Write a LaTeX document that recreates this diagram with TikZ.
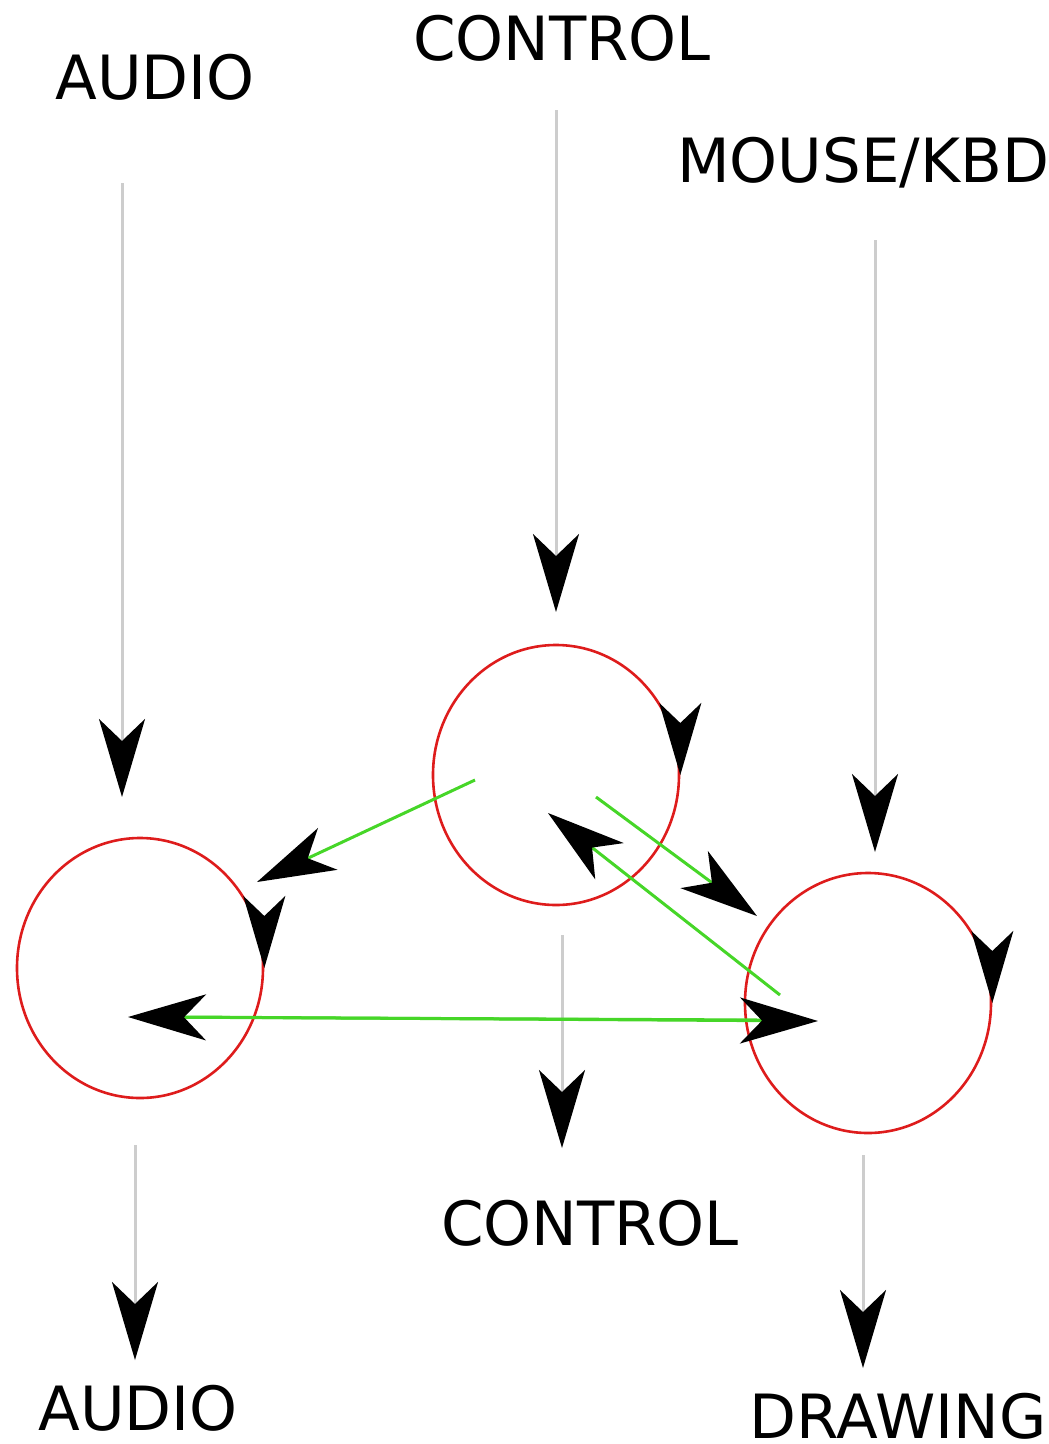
\documentclass[tikz,border=0pt]{standalone}
\usepackage{fontspec}
\setmainfont{DejaVu Sans}
\usetikzlibrary{arrows.meta,shapes.geometric}
\definecolor{linegray}{RGB}{205,205,205}
\definecolor{ringred}{RGB}{222,28,28}
\definecolor{flowgreen}{RGB}{70,214,40}
\begin{document}
\begin{tikzpicture}[x=1pt,y=-1pt,
  lbl/.style={font=\fontsize{61}{70}\selectfont, inner sep=0pt},
  ring/.style={ellipse, draw=ringred, line width=2.6pt, minimum width=246pt, minimum height=260pt, inner sep=0pt},
  bigtip/.style={-{Stealth[length=78pt,width=46pt,inset=22pt,black]}},
  ringtip/.style={-{Stealth[length=72pt,width=42pt,inset=20pt,black]}},
  feed/.style={linegray, line width=3pt, bigtip},
  flow/.style={flowgreen, line width=3pt, bigtip},
]
\useasboundingbox (0,0) rectangle (1049,1444);

% labels
\node[lbl] (audioIn)  at (155,77)   {AUDIO};
\node[lbl] (ctrlIn)   at (562,38)   {CONTROL};
\node[lbl] (mouseIn)  at (863,163)  {MOUSE/KBD};
\node[lbl] (ctrlOut)  at (590,1223) {CONTROL};
\node[lbl] (audioOut) at (138,1408) {AUDIO};
\node[lbl] (drawOut)  at (898,1416) {DRAWING};

% processes
\node[ring] (audio)   at (140,968)  {};
\node[ring] (control) at (556,775)  {};
\node[ring] (drawing) at (868,1003) {};

% feed line end points
\coordinate (aInS) at (122,183);  \coordinate (aInE) at (122,797);
\coordinate (cInS) at (556,110);  \coordinate (cInE) at (556,612);
\coordinate (mInS) at (875,240);  \coordinate (mInE) at (875,852);
\coordinate (cOutS) at (562,935); \coordinate (cOutE) at (562,1148);
\coordinate (aOutS) at (135,1145); \coordinate (aOutE) at (135,1360);
\coordinate (dOutS) at (863,1155); \coordinate (dOutE) at (863,1368);

\draw[feed] (aInS) -- (aInE);
\draw[feed] (cInS) -- (cInE);
\draw[feed] (mInS) -- (mInE);
\draw[feed] (cOutS) -- (cOutE);
\draw[feed] (aOutS) -- (aOutE);
\draw[feed] (dOutS) -- (dOutE);

% rotation marks on the rings
\draw[ringtip, ringred, line width=2.6pt] ([yshift=8pt]audio.east) -- (audio.east);
\draw[ringtip, ringred, line width=2.6pt] ([yshift=8pt]control.east) -- (control.east);
\draw[ringtip, ringred, line width=2.6pt] ([yshift=8pt]drawing.east) -- (drawing.east);

% green flows
\coordinate (c2aS) at (475,780);  \coordinate (c2aE) at (257,882);
\coordinate (c2dS) at (596,797);  \coordinate (c2dE) at (757,916);
\coordinate (d2cS) at (780,995);  \coordinate (d2cE) at (548,813);
\coordinate (a2dS) at (185,1017); \coordinate (a2dE) at (818,1021);
\coordinate (d2aS) at (760,1020); \coordinate (d2aE) at (128,1017);

\draw[flow] (c2aS) -- (c2aE);
\draw[flow] (c2dS) -- (c2dE);
\draw[flow] (d2cS) -- (d2cE);
\draw[flow] (a2dS) -- (a2dE);
\draw[flow] (d2aS) -- (d2aE);
\end{tikzpicture}
\end{document}
